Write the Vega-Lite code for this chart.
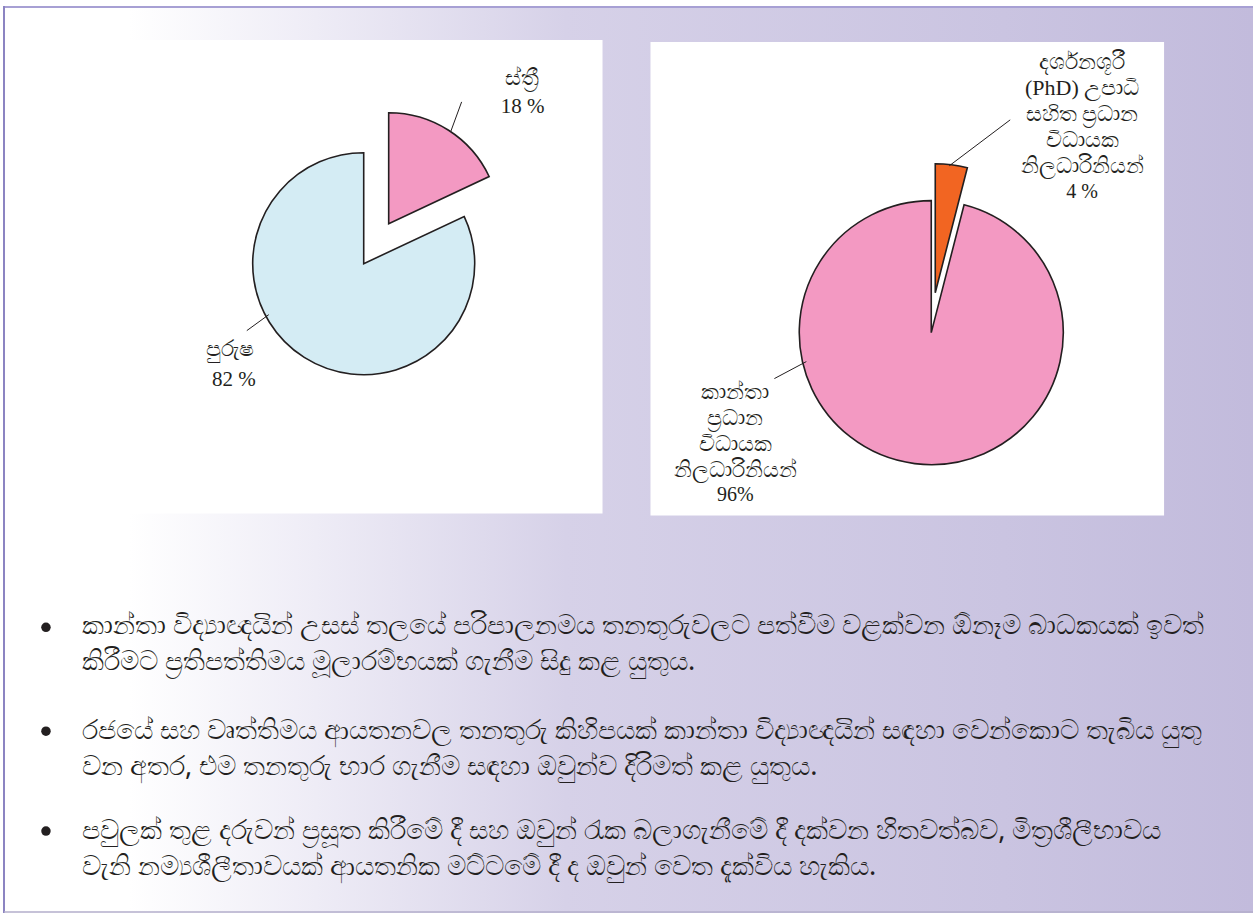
{
  "$schema": "https://vega.github.io/schema/vega-lite/v6.json",
  "width": 1254,
  "height": 914,
  "autosize": {"type": "fit", "contains": "padding"},
  "padding": 0,
  "background": "#ffffff",
  "config": {"view": {"stroke": null}},
  "datasets": {
    "gender": [
      {"cat": "ස්ත්‍රී", "v": 18},
      {"cat": "පුරුෂ", "v": 82}
    ],
    "officers": [
      {"cat": "දර්ශනශූරී (PhD) උපාධි සහිත ප්‍රධාන විධායක නිලධාරිනියන්", "v": 4},
      {"cat": "කාන්තා ප්‍රධාන විධායක නිලධාරිනියන්", "v": 96}
    ]
  },
  "data": {"values": [{}]},
  "layer": [
    {
      "mark": {"type": "rect", "fill": {"gradient": "linear", "x1": 0, "y1": 0, "x2": 1, "y2": 0, "stops": [
        {"offset": 0, "color": "#ffffff"},
        {"offset": 0.1, "color": "#ffffff"},
        {"offset": 0.25, "color": "#eeecf6"},
        {"offset": 0.45, "color": "#d6d1e8"},
        {"offset": 0.8, "color": "#cac4e1"},
        {"offset": 1, "color": "#c2bbdc"}]}},
      "encoding": {
        "x": {"datum": 4, "type": "quantitative", "scale": {"domain": [0, 1254], "nice": false, "zero": false}, "axis": null},
        "x2": {"datum": 1254},
        "y": {"datum": 7, "type": "quantitative", "scale": {"domain": [0, 914], "nice": false, "zero": false, "reverse": true}, "axis": null},
        "y2": {"datum": 914}
      }
    },
    {
      "mark": {"type": "rect", "fill": "#ffffff"},
      "encoding": {
        "x": {"datum": 4, "type": "quantitative"}, "x2": {"datum": 603},
        "y": {"datum": 40, "type": "quantitative"}, "y2": {"datum": 514}
      }
    },
    {
      "mark": {"type": "rect", "fill": "#ffffff"},
      "encoding": {
        "x": {"datum": 651, "type": "quantitative"}, "x2": {"datum": 1165},
        "y": {"datum": 42, "type": "quantitative"}, "y2": {"datum": 516}
      }
    },
    {
      "mark": {"type": "rule", "color": "#a7a0d4", "strokeWidth": 2},
      "encoding": {
        "x": {"datum": 3, "type": "quantitative"}, "x2": {"datum": 1254},
        "y": {"datum": 7, "type": "quantitative"}, "y2": {"datum": 7}
      }
    },
    {
      "mark": {"type": "rule", "color": "#8c84c2", "strokeWidth": 2},
      "encoding": {
        "x": {"datum": 4, "type": "quantitative"}, "x2": {"datum": 4},
        "y": {"datum": 6, "type": "quantitative"}, "y2": {"datum": 914}
      }
    },
    {
      "mark": {"type": "rule", "color": "#b3aecb", "strokeWidth": 1.5},
      "encoding": {
        "x": {"datum": 4, "type": "quantitative"}, "x2": {"datum": 1254},
        "y": {"datum": 913, "type": "quantitative"}, "y2": {"datum": 913}
      }
    },
    {
      "data": {"name": "gender"},
      "transform": [
        {"stack": "v", "groupby": [], "sort": [{"field": "v", "order": "ascending"}], "as": ["v0", "v1"]},
        {"filter": "datum.v === 82"}
      ],
      "mark": {"type": "arc", "radius": 111, "stroke": "#231f20", "strokeWidth": 1.6},
      "encoding": {
        "x": {"datum": 364, "type": "quantitative"},
        "y": {"datum": 264, "type": "quantitative"},
        "theta": {"field": "v0", "type": "quantitative", "stack": null, "scale": {"domain": [0, 100]}},
        "theta2": {"field": "v1"},
        "color": {"field": "cat", "type": "nominal", "legend": null,
          "scale": {"domain": ["ස්ත්‍රී", "පුරුෂ", "දර්ශනශූරී (PhD) උපාධි සහිත ප්‍රධාන විධායක නිලධාරිනියන්", "කාන්තා ප්‍රධාන විධායක නිලධාරිනියන්"],
                    "range": ["#f399c2", "#d4ecf4", "#f26522", "#f399c2"]}}
      }
    },
    {
      "data": {"name": "gender"},
      "transform": [
        {"stack": "v", "groupby": [], "sort": [{"field": "v", "order": "ascending"}], "as": ["v0", "v1"]},
        {"filter": "datum.v === 18"}
      ],
      "mark": {"type": "arc", "radius": 111, "stroke": "#231f20", "strokeWidth": 1.6},
      "encoding": {
        "x": {"datum": 389, "type": "quantitative"},
        "y": {"datum": 224, "type": "quantitative"},
        "theta": {"field": "v0", "type": "quantitative", "stack": null},
        "theta2": {"field": "v1"},
        "color": {"field": "cat", "type": "nominal", "legend": null}
      }
    },
    {
      "data": {"name": "officers"},
      "transform": [
        {"stack": "v", "groupby": [], "sort": [{"field": "v", "order": "ascending"}], "as": ["v0", "v1"]},
        {"filter": "datum.v === 96"}
      ],
      "mark": {"type": "arc", "radius": 132, "stroke": "#231f20", "strokeWidth": 1.6},
      "encoding": {
        "x": {"datum": 932, "type": "quantitative"},
        "y": {"datum": 333, "type": "quantitative"},
        "theta": {"field": "v0", "type": "quantitative", "stack": null},
        "theta2": {"field": "v1"},
        "color": {"field": "cat", "type": "nominal", "legend": null}
      }
    },
    {
      "data": {"name": "officers"},
      "transform": [
        {"stack": "v", "groupby": [], "sort": [{"field": "v", "order": "ascending"}], "as": ["v0", "v1"]},
        {"filter": "datum.v === 4"}
      ],
      "mark": {"type": "arc", "radius": 129, "stroke": "#231f20", "strokeWidth": 1.6},
      "encoding": {
        "x": {"datum": 936, "type": "quantitative"},
        "y": {"datum": 293, "type": "quantitative"},
        "theta": {"field": "v0", "type": "quantitative", "stack": null},
        "theta2": {"field": "v1"},
        "color": {"field": "cat", "type": "nominal", "legend": null}
      }
    },
    {
      "mark": {"type": "rule", "color": "#231f20", "strokeWidth": 1},
      "encoding": {
        "x": {"datum": 451, "type": "quantitative"}, "x2": {"datum": 462},
        "y": {"datum": 132, "type": "quantitative"}, "y2": {"datum": 102}
      }
    },
    {
      "mark": {"type": "rule", "color": "#231f20", "strokeWidth": 1},
      "encoding": {
        "x": {"datum": 247, "type": "quantitative"}, "x2": {"datum": 269},
        "y": {"datum": 331, "type": "quantitative"}, "y2": {"datum": 315}
      }
    },
    {
      "mark": {"type": "rule", "color": "#231f20", "strokeWidth": 1},
      "encoding": {
        "x": {"datum": 950, "type": "quantitative"}, "x2": {"datum": 1011},
        "y": {"datum": 166, "type": "quantitative"}, "y2": {"datum": 120}
      }
    },
    {
      "mark": {"type": "rule", "color": "#231f20", "strokeWidth": 1},
      "encoding": {
        "x": {"datum": 775, "type": "quantitative"}, "x2": {"datum": 807},
        "y": {"datum": 379, "type": "quantitative"}, "y2": {"datum": 362}
      }
    },
    {
      "mark": {"type": "text", "font": "Liberation Serif", "fontSize": 22, "color": "#231f20", "align": "center", "baseline": "middle"},
      "encoding": {
        "x": {"datum": 522, "type": "quantitative"},
        "y": {"datum": 78, "type": "quantitative"},
        "text": {"value": "ස්ත්‍රී"}
      }
    },
    {
      "mark": {"type": "text", "font": "Liberation Serif", "fontSize": 21, "color": "#231f20", "align": "center", "baseline": "middle"},
      "encoding": {
        "x": {"datum": 523, "type": "quantitative"},
        "y": {"datum": 107, "type": "quantitative"},
        "text": {"value": "18 %"}
      }
    },
    {
      "mark": {"type": "text", "font": "Liberation Serif", "fontSize": 22, "color": "#231f20", "align": "center", "baseline": "middle"},
      "encoding": {
        "x": {"datum": 230, "type": "quantitative"},
        "y": {"datum": 349, "type": "quantitative"},
        "text": {"value": "පුරුෂ"}
      }
    },
    {
      "mark": {"type": "text", "font": "Liberation Serif", "fontSize": 21, "color": "#231f20", "align": "center", "baseline": "middle"},
      "encoding": {
        "x": {"datum": 234, "type": "quantitative"},
        "y": {"datum": 380, "type": "quantitative"},
        "text": {"value": "82 %"}
      }
    },
    {
      "mark": {"type": "text", "font": "Liberation Serif", "fontSize": 22, "color": "#231f20", "align": "center", "baseline": "middle", "lineHeight": 26},
      "encoding": {
        "x": {"datum": 1083, "type": "quantitative"},
        "y": {"datum": 62, "type": "quantitative"},
        "text": {"value": ["දර්ශනශූරී", "(PhD) උපාධි", "සහිත ප්‍රධාන", "විධායක", "නිලධාරිනියන්"]}
      }
    },
    {
      "mark": {"type": "text", "font": "Liberation Serif", "fontSize": 20, "color": "#231f20", "align": "center", "baseline": "middle"},
      "encoding": {
        "x": {"datum": 1083, "type": "quantitative"},
        "y": {"datum": 192, "type": "quantitative"},
        "text": {"value": "4 %"}
      }
    },
    {
      "mark": {"type": "text", "font": "Liberation Serif", "fontSize": 22, "color": "#231f20", "align": "center", "baseline": "middle", "lineHeight": 26},
      "encoding": {
        "x": {"datum": 736, "type": "quantitative"},
        "y": {"datum": 392, "type": "quantitative"},
        "text": {"value": ["කාන්තා", "ප්‍රධාන", "විධායක", "නිලධාරිනියන්"]}
      }
    },
    {
      "mark": {"type": "text", "font": "Liberation Serif", "fontSize": 20, "color": "#231f20", "align": "center", "baseline": "middle"},
      "encoding": {
        "x": {"datum": 736, "type": "quantitative"},
        "y": {"datum": 496, "type": "quantitative"},
        "text": {"value": "96%"}
      }
    },
    {
      "mark": {"type": "point", "shape": "circle", "filled": true, "size": 90, "color": "#231f20", "opacity": 1},
      "encoding": {
        "x": {"datum": 46, "type": "quantitative"},
        "y": {"datum": 628, "type": "quantitative"}
      }
    },
    {
      "mark": {"type": "point", "shape": "circle", "filled": true, "size": 90, "color": "#231f20", "opacity": 1},
      "encoding": {
        "x": {"datum": 46, "type": "quantitative"},
        "y": {"datum": 732, "type": "quantitative"}
      }
    },
    {
      "mark": {"type": "point", "shape": "circle", "filled": true, "size": 90, "color": "#231f20", "opacity": 1},
      "encoding": {
        "x": {"datum": 46, "type": "quantitative"},
        "y": {"datum": 832, "type": "quantitative"}
      }
    },
    {
      "mark": {"type": "text", "font": "Noto Sans", "fontSize": 27, "color": "#231f20", "align": "left", "baseline": "middle", "lineHeight": 36},
      "encoding": {
        "x": {"datum": 82, "type": "quantitative"},
        "y": {"datum": 627, "type": "quantitative"},
        "text": {"value": ["කාන්තා විද්‍යාඥයින් උසස් තලයේ පරිපාලනමය තනතුරුවලට පත්වීම වළක්වන ඕනෑම බාධකයක් ඉවත්", "කිරීමට ප්‍රතිපත්තිමය මූලාරම්භයක් ගැනීම සිදු කළ යුතුය."]}
      }
    },
    {
      "mark": {"type": "text", "font": "Noto Sans", "fontSize": 27, "color": "#231f20", "align": "left", "baseline": "middle", "lineHeight": 36},
      "encoding": {
        "x": {"datum": 82, "type": "quantitative"},
        "y": {"datum": 732, "type": "quantitative"},
        "text": {"value": ["රජයේ සහ වෘත්තිමය ආයතනවල තනතුරු කිහිපයක් කාන්තා විද්‍යාඥයින් සඳහා වෙන්කොට තැබිය යුතු", "වන අතර, එම තනතුරු භාර ගැනීම සඳහා ඔවුන්ව දිරිමත් කළ යුතුය."]}
      }
    },
    {
      "mark": {"type": "text", "font": "Noto Sans", "fontSize": 27, "color": "#231f20", "align": "left", "baseline": "middle", "lineHeight": 36},
      "encoding": {
        "x": {"datum": 82, "type": "quantitative"},
        "y": {"datum": 832, "type": "quantitative"},
        "text": {"value": ["පවුලක් තුළ දරුවන් ප්‍රසූත කිරීමේ දී සහ ඔවුන් රැක බලාගැනීමේ දී දක්වන හිතවත්බව, මිත්‍රශීලීභාවය", "වැනි නම්‍යශීලීතාවයක් ආයතනික මට්ටමේ දී ද ඔවුන් වෙත දැක්විය හැකිය."]}
      }
    }
  ]
}
